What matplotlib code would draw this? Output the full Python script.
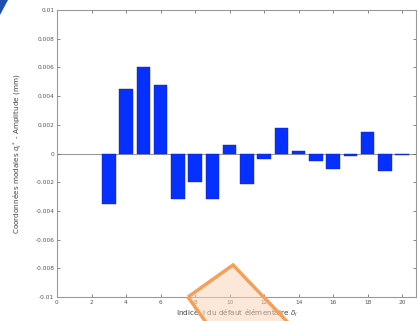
import matplotlib
matplotlib.use("Agg")
import matplotlib.pyplot as plt
from matplotlib.patches import Polygon

# Data
indices = [3, 4, 5, 6, 7, 8, 9, 10, 11, 12, 13, 14, 15, 16, 17, 18, 19, 20]
values = [-0.0035, 0.0045, 0.0060, 0.0048, -0.0032, -0.0020, -0.0032, 0.0006,
          -0.0021, -0.0004, 0.0018, 0.0002, -0.0005, -0.0011, -0.0002, 0.0015,
          -0.0012, -0.0001]
xticks = [0, 2, 4, 6, 8, 10, 12, 14, 16, 18, 20]
yticks = [-0.01, -0.008, -0.006, -0.004, -0.002, 0, 0.002, 0.004, 0.006, 0.008, 0.01]
ytick_labels = ["-0.01", "-0.008", "-0.006", "-0.004", "-0.002", "0",
                "0.002", "0.004", "0.006", "0.008", "0.01"]
xlabel = "Indice  i du défaut élémentaire $\\delta_i$"
ylabel = "Coordonnées modales $q_i^*$ - Amplitude (mm)"

W, H = 418, 321
fig = plt.figure(figsize=(W / 100, H / 100), dpi=100)
ax = fig.add_axes([57 / W, (H - 297) / H, (416 - 57) / W, (297 - 10) / H])

ax.axhline(0, color="#9a9a9a", lw=0.8, zorder=1)
ax.bar(indices, values, width=0.78, color="#0530ff", edgecolor="#1a2a90",
       linewidth=0.3, zorder=2)

ax.set_xlim(0, 20.8)
ax.set_ylim(-0.01, 0.01)
ax.set_xticks(xticks)
ax.set_xticklabels([str(t) for t in xticks])
ax.set_yticks(yticks)
ax.set_yticklabels(ytick_labels)
ax.tick_params(direction="in", length=2, width=0.5, labelsize=4.2,
               colors="#555555", top=True, right=True, pad=2)
for s in ax.spines.values():
    s.set_color("#999999")
    s.set_linewidth(0.8)
ax.set_xlabel(xlabel, fontsize=5.2, color="#444444", labelpad=2)
ax.set_ylabel(ylabel, fontsize=5.2, color="#444444", labelpad=7)

# Decorations
def px(pts):
    return [(x / W, 1 - y / H) for x, y in pts]

corner = Polygon(px([(0, 0), (8, 0), (0, 15)]), closed=True,
                 transform=fig.transFigure, facecolor="#1f4fb0",
                 edgecolor="none", zorder=10)
fig.add_artist(corner)

penta_pts = [(188, 297), (233, 265), (300, 335), (215, 335)]
penta = Polygon(px(penta_pts), closed=True,
                transform=fig.transFigure, facecolor="#fbd3b4", alpha=0.5,
                edgecolor="none", zorder=10)
fig.add_artist(penta)
penta_edge = Polygon(px(penta_pts), closed=True,
                     transform=fig.transFigure, facecolor="none",
                     edgecolor="#f5a05a", linewidth=2.5, zorder=11)
fig.add_artist(penta_edge)

fig.savefig("out.png", dpi=100)
